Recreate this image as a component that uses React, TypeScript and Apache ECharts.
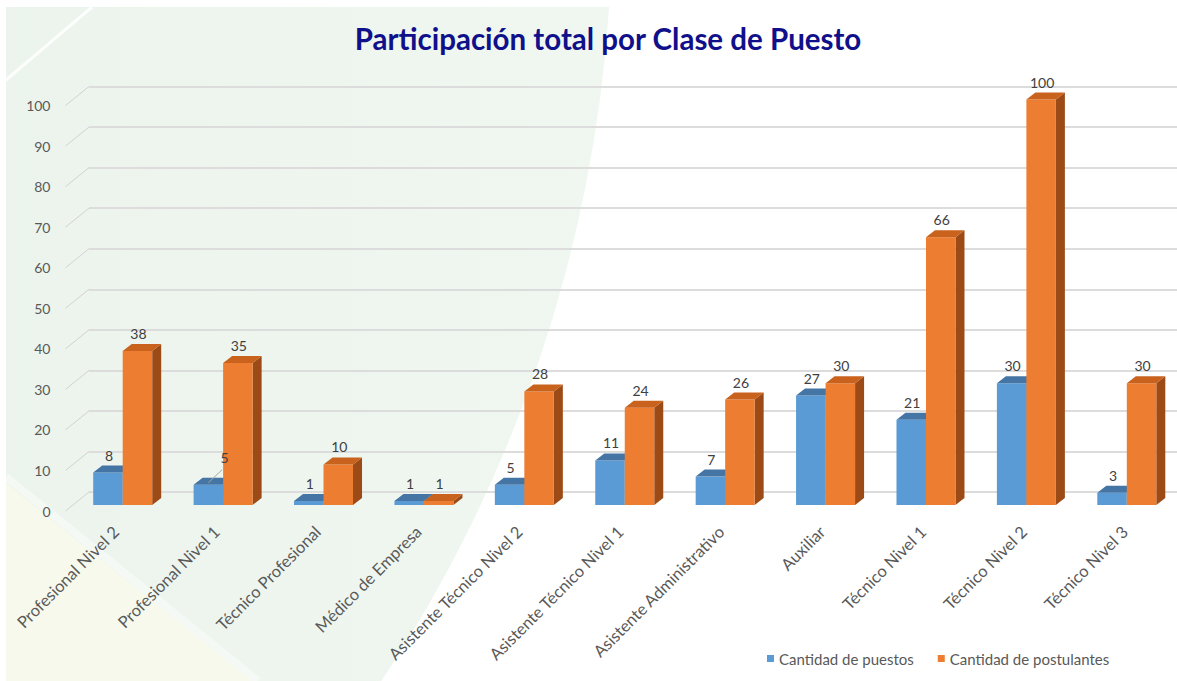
import React, { useEffect, useRef } from "react";
import * as echarts from "echarts";

const TITLE = "Participación total por Clase de Puesto";
const CATEGORIES = [
  "Profesional Nivel 2",
  "Profesional Nivel 1",
  "Técnico Profesional",
  "Médico de Empresa",
  "Asistente Técnico Nivel 2",
  "Asistente Técnico Nivel 1",
  "Asistente Administrativo",
  "Auxiliar",
  "Técnico Nivel 1",
  "Técnico Nivel 2",
  "Técnico Nivel 3",
];
const PUESTOS = [8, 5, 1, 1, 5, 11, 7, 27, 21, 30, 3];
const POSTULANTES = [38, 35, 10, 1, 28, 24, 26, 30, 66, 100, 30];
const Y_TICKS = [0, 10, 20, 30, 40, 50, 60, 70, 80, 90, 100];
const SERIES_NAMES = ["Cantidad de puestos", "Cantidad de postulantes"];

const FONT = "Lato";
const BAR_W = 29.5;
const DEPTH_X = 9;
const DEPTH_Y = 7;
const BACK_DX = 23.5;
const BACK_DY = 19;
const LEADER_INDEX = 1; // label of "Cantidad de puestos" drawn with a leader line

const BLUE = { front: "#5B9BD5", top: "#4475A4", side: "#3F6D98" };
const ORANGE = { front: "#ED7D31", top: "#C9621D", side: "#9C4A16" };

function barRenderer(colors: any, seriesIdx: number) {
  return (params: any, api: any) => {
    const idx = api.value(0);
    const val = api.value(1);
    const base = api.coord([idx, 0]);
    const top = api.coord([idx, val]);
    const x0 = seriesIdx === 0 ? base[0] - BAR_W : base[0];
    const x1 = x0 + BAR_W;
    const yB = base[1];
    const yT = top[1];
    const children: any[] = [
      {
        type: "polygon",
        shape: {
          points: [
            [x1, yT],
            [x1 + DEPTH_X, yT - DEPTH_Y],
            [x1 + DEPTH_X, yB - DEPTH_Y],
            [x1, yB],
          ],
        },
        style: { fill: colors.side },
      },
      {
        type: "rect",
        shape: { x: x0, y: yT, width: BAR_W, height: yB - yT },
        style: { fill: colors.front },
      },
      {
        type: "polygon",
        shape: {
          points: [
            [x0, yT],
            [x1, yT],
            [x1 + DEPTH_X, yT - DEPTH_Y],
            [x0 + DEPTH_X, yT - DEPTH_Y],
          ],
        },
        style: { fill: colors.top },
      },
    ];
    let lx = x0 + BAR_W / 2 + 1;
    let ly = yT - DEPTH_Y - 10.5;
    if (seriesIdx === 0 && params.dataIndex === LEADER_INDEX) {
      children.push({
        type: "line",
        z2: 20,
        shape: { x1: x0 + BAR_W / 2, y1: yT - 2, x2: x1 - 1, y2: yT - 15 },
        style: { stroke: "#A6A6A6", lineWidth: 1 },
      });
      lx = x1 + 1.5;
      ly = yT - 27;
    }
    children.push({
      type: "text",
      z2: 20,
      style: {
        text: String(val),
        x: lx,
        y: ly,
        align: "center",
        verticalAlign: "middle",
        fill: "#404040",
        fontSize: 14,
        fontFamily: FONT,
      },
    });
    return { type: "group", children };
  };
}

export default function App() {
  const ref = useRef<HTMLDivElement>(null);
  useEffect(() => {
    if (!ref.current) return;
    const chart = echarts.init(ref.current, undefined, { renderer: "svg" });
    const bandW = 100.9;
    const gridW = bandW * CATEGORIES.length;
    const option: any = {
      animation: false,
      backgroundColor: "#FFFFFF",
      graphic: [
        {
          type: "circle",
          z: -10,
          shape: { cx: -766, cy: -82, r: 1378 },
          style: {
            fill: {
              type: "linear",
              x: 0,
              y: 0,
              x2: 1,
              y2: 0,
              global: false,
              colorStops: [
                { offset: 0.5, color: "#E6F0E8" },
                { offset: 1, color: "#F0F7F0" },
              ],
            },
          },
          silent: true,
        },
        {
          type: "polygon",
          z: -9,
          shape: { points: [[6, 483], [252, 681], [6, 681]] },
          style: { fill: "#F6F9EC" },
          silent: true,
        },
        {
          type: "line",
          z: -9,
          shape: { x1: 6, y1: 477, x2: 258, y2: 681 },
          style: { stroke: "rgba(255,255,255,0.45)", lineWidth: 8 },
          silent: true,
        },
        {
          type: "line",
          z: -9,
          shape: { x1: 6, y1: 80, x2: 92, y2: 7 },
          style: { stroke: "rgba(255,255,255,0.85)", lineWidth: 3 },
          silent: true,
        },
        {
          type: "rect",
          z: -8,
          shape: { x: 0, y: 0, width: 1177, height: 7 },
          style: { fill: "#FFFFFF" },
          silent: true,
        },
        {
          type: "rect",
          z: -8,
          shape: { x: 0, y: 0, width: 6, height: 681 },
          style: { fill: "#FFFFFF" },
          silent: true,
        },
        {
          type: "text",
          z: 10,
          x: 608,
          y: 38,
          style: {
            text: TITLE,
            fill: "#10108A",
            fontSize: 29.5,
            fontWeight: "bold",
            fontFamily: FONT,
            align: "center",
            verticalAlign: "middle",
          },
        },
      ],
      legend: {
        data: SERIES_NAMES,
        left: 762,
        top: 646,
        icon: "rect",
        itemWidth: 7,
        itemHeight: 7,
        itemGap: 24,
        selectedMode: false,
        textStyle: { color: "#595959", fontSize: 15, fontFamily: FONT },
      },
      grid: [
        { left: 72.5, top: 99.5, width: gridW, height: 405.5 },
        { left: 65.5, top: 105.5, width: gridW, height: 405.5 },
        { left: 65.5 + BACK_DX, top: 105.5 - BACK_DY, width: 1177 - 65.5 - BACK_DX, height: 405.5 },
      ],
      xAxis: [
        { type: "category", gridIndex: 0, data: CATEGORIES, show: false },
        {
          type: "category",
          gridIndex: 1,
          data: CATEGORIES,
          axisLine: { show: false },
          axisTick: { show: false },
          axisLabel: {
            interval: 0,
            rotate: 45,
            margin: 18,
            color: "#595959",
            fontSize: 16.5,
            fontFamily: FONT,
          },
        },
        { type: "category", gridIndex: 2, data: CATEGORIES, show: false },
      ],
      yAxis: [
        { type: "value", gridIndex: 0, min: 0, max: 100, interval: 10, show: false },
        {
          type: "value",
          gridIndex: 1,
          min: 0,
          max: 100,
          interval: 10,
          axisLine: { show: false },
          axisTick: { show: false },
          splitLine: { show: false },
          axisLabel: { margin: 15, color: "#595959", fontSize: 14, fontFamily: FONT },
        },
        {
          type: "value",
          gridIndex: 2,
          min: 0,
          max: 100,
          interval: 10,
          axisLine: { show: false },
          axisTick: { show: false },
          axisLabel: { show: false },
          splitLine: { show: true, lineStyle: { color: "#DCDCDC", width: 2 } },
        },
      ],
      series: [
        {
          type: "custom",
          name: "diagonales",
          xAxisIndex: 1,
          yAxisIndex: 1,
          silent: true,
          encode: { x: 0, y: 1 },
          data: Y_TICKS.map((v) => [0, v]),
          renderItem: (params: any, api: any) => {
            const p = api.coord([0, api.value(1)]);
            const x = params.coordSys.x;
            return {
              type: "line",
              shape: { x1: x, y1: p[1], x2: x + BACK_DX, y2: p[1] - BACK_DY },
              style: { stroke: "#D2D2D2", lineWidth: 1 },
            };
          },
        },
        {
          type: "custom",
          name: SERIES_NAMES[0],
          xAxisIndex: 0,
          yAxisIndex: 0,
          encode: { x: 0, y: 1 },
          itemStyle: { color: BLUE.front },
          data: PUESTOS.map((v, i) => [i, v]),
          renderItem: barRenderer(BLUE, 0),
        },
        {
          type: "custom",
          name: SERIES_NAMES[1],
          xAxisIndex: 0,
          yAxisIndex: 0,
          encode: { x: 0, y: 1 },
          itemStyle: { color: ORANGE.front },
          data: POSTULANTES.map((v, i) => [i, v]),
          renderItem: barRenderer(ORANGE, 1),
        },
      ],
    };
    chart.setOption(option);
    return () => chart.dispose();
  }, []);
  return (
    <div
      ref={ref}
      style={{ position: "fixed", left: 0, top: 0, width: 1177, height: 681 }}
    />
  );
}
